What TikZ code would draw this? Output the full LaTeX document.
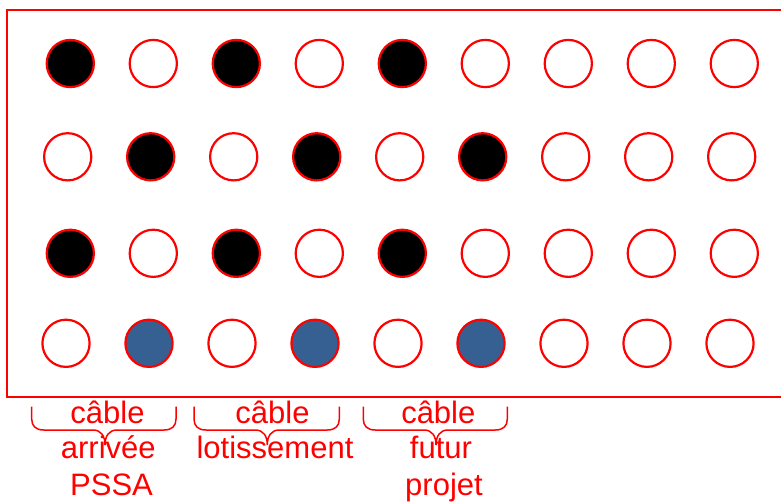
\documentclass[tikz,border=0pt]{standalone}
\usepackage{fontspec}
\setmainfont{Liberation Sans}
\definecolor{holered}{RGB}{255,0,0}
\definecolor{holefill}{RGB}{54,96,145}
\newcommand\cablebrace[3]{%
  \draw[bracestyle] (#1,406.7) -- (#1,419) .. controls (#1,426) and ({#1+4},430) .. ({#1+12},430)
    -- ({#2-12},430) .. controls ({#2-4},430) and (#2,436) .. (#2,445)
    .. controls (#2,436) and ({#2+4},430) .. ({#2+12},430)
    -- ({#3-12},430) .. controls ({#3-4},430) and (#3,426) .. (#3,419) -- (#3,406.7);}
\begin{document}
\begin{tikzpicture}[x=1pt,y=-1pt,
  hole/.style={circle, draw=holered, line width=2.2pt, minimum size=47.2pt, inner sep=0pt},
  emptyhole/.style={hole, fill=white},
  filledhole/.style={hole, fill=black},
  bluehole/.style={hole, fill=holefill},
  bracestyle/.style={draw=holered, line width=1.5pt},
  lbl/.style={text=holered, font=\fontsize{31}{37}\selectfont, inner sep=0pt, anchor=base}]
\useasboundingbox (0,0) rectangle (781,503);
\draw[holered, line width=1.8pt] (7.3,10) rectangle (790,397);
% row 1
\foreach \c/\s in {1/filledhole,2/emptyhole,3/filledhole,4/emptyhole,5/filledhole,6/emptyhole,7/emptyhole,8/emptyhole,9/emptyhole}
  \node[\s] (a\c) at ({70.3+83*(\c-1)},63.5) {};
% row 2
\foreach \c/\s in {1/emptyhole,2/filledhole,3/emptyhole,4/filledhole,5/emptyhole,6/filledhole,7/emptyhole,8/emptyhole,9/emptyhole}
  \node[\s] (b\c) at ({67.7+83*(\c-1)},156.8) {};
% row 3
\foreach \c/\s in {1/filledhole,2/emptyhole,3/filledhole,4/emptyhole,5/filledhole,6/emptyhole,7/emptyhole,8/emptyhole,9/emptyhole}
  \node[\s] (c\c) at ({70.3+83*(\c-1)},253.3) {};
% row 4
\foreach \c/\s in {1/emptyhole,2/bluehole,3/emptyhole,4/bluehole,5/emptyhole,6/bluehole,7/emptyhole,8/emptyhole,9/emptyhole}
  \node[\s] (d\c) at ({66+83*(\c-1)},343.3) {};
% labels
\node[lbl] (l1a) at (107.5,423) {câble};
\node[lbl] (l1b) at (108.3,458) {arrivée};
\node[lbl] (l1c) at (111.5,495) {PSSA};
\node[lbl] (l2a) at (272.5,423) {câble};
\node[lbl] (l2b) at (275,458) {lotissement};
\node[lbl] (l3a) at (438.3,423) {câble};
\node[lbl] (l3b) at (441,458) {futur};
\node[lbl] (l3c) at (444,495) {projet};
% braces
\cablebrace{31.7}{105}{176}
\cablebrace{194}{267.3}{339.3}
\cablebrace{363.3}{436}{507.3}
\end{tikzpicture}
\end{document}
